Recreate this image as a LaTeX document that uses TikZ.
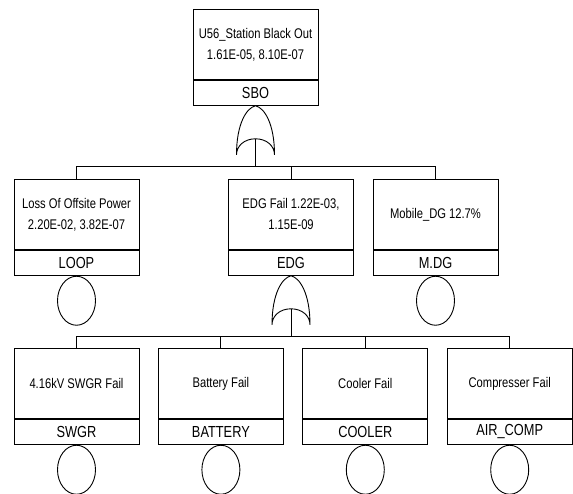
\documentclass[tikz,border=0pt]{standalone}
\usepackage{fontspec}
\setmainfont{Liberation Sans}[FakeStretch=0.8]
\usetikzlibrary{positioning,shapes.geometric}

% OR gate hanging below a point, #2 names its input
\newcommand{\orgate}[2]{%
  \begin{scope}[shift={(#1)}]
    \draw (0,0) .. controls (-9,2) and (-19,18) .. (-19,49)
      .. controls (-19,40) and (-11,33) .. (0,33)
      .. controls (11,33) and (19,40) .. (19,49)
      .. controls (19,18) and (9,2) .. cycle;
    \coordinate (#2) at (0,33);
  \end{scope}}

\begin{document}
\begin{tikzpicture}[x=1pt,y=-1pt,line width=0.9pt,node distance=18.5pt,
  desc/.style={draw,minimum width=125pt,minimum height=70pt,inner sep=0pt,
    align=center,anchor=north,font=\fontsize{14}{21}\selectfont},
  tag/.style={draw,minimum width=125pt,minimum height=25pt,inner sep=0pt,
    font=\fontsize{16}{18}\selectfont},
  basic/.style={draw,ellipse,minimum width=38pt,minimum height=49pt,inner sep=0pt}]
\useasboundingbox (0,0) rectangle (573,494);
% top event
\node[desc] (sbo) at (255.5,9) {U56\_Station Black Out\\1.61E-05, 8.10E-07};
\node[tag,below=0pt of sbo] (sbo-id) {SBO};
\orgate{sbo-id.south}{sbo-in}
% second level
\node[desc] (loop) at (76.5,179) {Loss Of Offsite Power\\2.20E-02, 3.82E-07};
\node[tag,below=0pt of loop] (loop-id) {LOOP};
\node[basic,below=0pt of loop-id] (loop-ev) {};
\node[desc] (edg) at (291,179) {EDG Fail 1.22E-03,\\1.15E-09};
\node[tag,below=0pt of edg] (edg-id) {EDG};
\orgate{edg-id.south}{edg-in}
\node[desc] (mdg) at (435.5,179) {Mobile\_DG 12.7\%};
\node[tag,below=0pt of mdg] (mdg-id) {M.DG};
\node[basic,below=0pt of mdg-id] (mdg-ev) {};
\draw (loop.north) -- ++(0,-13) coordinate (bar1) -| (mdg.north);
\draw (edg.north) -- (edg.north |- bar1);
\draw (sbo-in) -- (sbo-in |- bar1);
% third level
\node[desc] (swgr) at (76.5,348) {4.16kV SWGR Fail};
\node[desc,right=of swgr] (bat) {Battery Fail};
\node[desc,right=of bat] (cool) {Cooler Fail};
\node[desc,right=of cool] (comp) {Compresser Fail};
\node[tag,below=0pt of swgr] (swgr-id) {SWGR};
\node[tag,below=0pt of bat] (bat-id) {BATTERY};
\node[tag,below=0pt of cool] (cool-id) {COOLER};
\node[tag,below=0pt of comp] (comp-id) {AIR\_COMP};
\foreach \n in {swgr,bat,cool,comp}
  \node[basic,below=0pt of \n-id] (\n-ev) {};
\draw (swgr.north) -- ++(0,-12) coordinate (bar2) -| (comp.north);
\draw (bat.north) -- (bat.north |- bar2);
\draw (cool.north) -- (cool.north |- bar2);
\draw (edg-in) -- (edg-in |- bar2);
\end{tikzpicture}
\end{document}
